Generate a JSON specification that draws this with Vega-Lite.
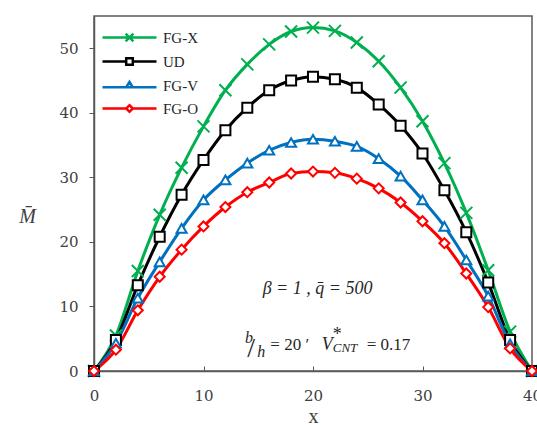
{
  "$schema": "https://vega.github.io/schema/vega-lite/v6.json",
  "width": 438,
  "height": 355,
  "autosize": {"type": "none"},
  "padding": {"left": 94, "top": 16, "right": 5, "bottom": 54},
  "background": "white",
  "config": {
    "view": {"stroke": "#595959", "strokeWidth": 1.5},
    "axis": {"grid": false, "domainColor": "#595959", "domainWidth": 1.5, "tickColor": "#595959", "labelFont": "DejaVu Serif", "labelFontSize": 15, "labelColor": "#404040", "titleFont": "Liberation Serif", "titleColor": "#404040", "titleFontWeight": "normal"},
    "legend": {"labelFont": "Liberation Serif", "labelFontSize": 15, "labelColor": "#262626"}
  },
  "layer": [
    {
      "data": {"name": "curves", "values": [
        {"x":0,"s":"FG-X","M":0},{"x":2,"s":"FG-X","M":5.5},{"x":4,"s":"FG-X","M":15.5},{"x":6,"s":"FG-X","M":24.2},{"x":8,"s":"FG-X","M":31.5},{"x":10,"s":"FG-X","M":37.9},{"x":12,"s":"FG-X","M":43.5},{"x":14,"s":"FG-X","M":47.5},{"x":16,"s":"FG-X","M":50.6},{"x":18,"s":"FG-X","M":52.6},{"x":20,"s":"FG-X","M":53.2},{"x":22,"s":"FG-X","M":52.7},{"x":24,"s":"FG-X","M":50.9},{"x":26,"s":"FG-X","M":48.0},{"x":28,"s":"FG-X","M":43.9},{"x":30,"s":"FG-X","M":38.7},{"x":32,"s":"FG-X","M":32.2},{"x":34,"s":"FG-X","M":24.5},{"x":36,"s":"FG-X","M":15.6},{"x":38,"s":"FG-X","M":6.1},{"x":40,"s":"FG-X","M":0},
        {"x":0,"s":"UD","M":0},{"x":2,"s":"UD","M":4.8},{"x":4,"s":"UD","M":13.3},{"x":6,"s":"UD","M":20.8},{"x":8,"s":"UD","M":27.3},{"x":10,"s":"UD","M":32.7},{"x":12,"s":"UD","M":37.3},{"x":14,"s":"UD","M":40.8},{"x":16,"s":"UD","M":43.5},{"x":18,"s":"UD","M":45.0},{"x":20,"s":"UD","M":45.6},{"x":22,"s":"UD","M":45.2},{"x":24,"s":"UD","M":43.9},{"x":26,"s":"UD","M":41.3},{"x":28,"s":"UD","M":38.0},{"x":30,"s":"UD","M":33.7},{"x":32,"s":"UD","M":28.0},{"x":34,"s":"UD","M":21.5},{"x":36,"s":"UD","M":13.7},{"x":38,"s":"UD","M":4.8},{"x":40,"s":"UD","M":0},
        {"x":0,"s":"FG-V","M":0},{"x":2,"s":"FG-V","M":4.3},{"x":4,"s":"FG-V","M":11.3},{"x":6,"s":"FG-V","M":16.9},{"x":8,"s":"FG-V","M":22.1},{"x":10,"s":"FG-V","M":26.5},{"x":12,"s":"FG-V","M":29.6},{"x":14,"s":"FG-V","M":32.2},{"x":16,"s":"FG-V","M":34.2},{"x":18,"s":"FG-V","M":35.4},{"x":20,"s":"FG-V","M":35.9},{"x":22,"s":"FG-V","M":35.6},{"x":24,"s":"FG-V","M":34.8},{"x":26,"s":"FG-V","M":32.9},{"x":28,"s":"FG-V","M":30.2},{"x":30,"s":"FG-V","M":26.5},{"x":32,"s":"FG-V","M":22.4},{"x":34,"s":"FG-V","M":17.2},{"x":36,"s":"FG-V","M":11.6},{"x":38,"s":"FG-V","M":4.2},{"x":40,"s":"FG-V","M":0},
        {"x":0,"s":"FG-O","M":0},{"x":2,"s":"FG-O","M":3.3},{"x":4,"s":"FG-O","M":9.4},{"x":6,"s":"FG-O","M":14.6},{"x":8,"s":"FG-O","M":18.8},{"x":10,"s":"FG-O","M":22.4},{"x":12,"s":"FG-O","M":25.4},{"x":14,"s":"FG-O","M":27.7},{"x":16,"s":"FG-O","M":29.2},{"x":18,"s":"FG-O","M":30.6},{"x":20,"s":"FG-O","M":30.9},{"x":22,"s":"FG-O","M":30.7},{"x":24,"s":"FG-O","M":29.8},{"x":26,"s":"FG-O","M":28.3},{"x":28,"s":"FG-O","M":26.1},{"x":30,"s":"FG-O","M":23.2},{"x":32,"s":"FG-O","M":19.8},{"x":34,"s":"FG-O","M":15.1},{"x":36,"s":"FG-O","M":9.9},{"x":38,"s":"FG-O","M":3.5},{"x":40,"s":"FG-O","M":0}
      ]},
      "encoding": {
        "x": {"field": "x", "type": "quantitative", "scale": {"domain": [0, 40], "nice": false},
          "axis": {"values": [0, 10, 20, 30, 40], "tickSize": -5, "labelPadding": 22, "title": "x", "titleFontSize": 20, "titlePadding": 3, "labelFlush": false}},
        "y": {"field": "M", "type": "quantitative", "scale": {"domain": [0, 55], "nice": false},
          "axis": {"values": [0, 10, 20, 30, 40, 50], "tickSize": 5, "labelPadding": 11, "title": "M\u0304", "titleAngle": 0, "titleFontStyle": "italic", "titleFontSize": 20, "titleX": -67, "titleY": 200, "titleAlign": "center", "titleBaseline": "middle"}},
        "color": {"field": "s", "type": "nominal", "sort": ["FG-X", "UD", "FG-V", "FG-O"],
          "scale": {"domain": ["FG-X", "UD", "FG-V", "FG-O"], "range": ["#00B050", "#000000", "#0070C0", "#FF0000"]},
          "legend": {"title": null, "orient": "none", "legendX": 28, "legendY": 14, "padding": 0, "rowPadding": 6, "symbolSize": 36, "symbolStrokeWidth": 2.5, "symbolFillColor": "white", "symbolOpacity": 1, "labelOffset": 26}}
      },
      "layer": [
        {"mark": {"type": "line", "interpolate": "monotone", "strokeWidth": 3}},
        {"mark": {"type": "point", "filled": false, "opacity": 0, "size": 1},
         "encoding": {
          "shape": {"field": "s", "type": "nominal", "sort": ["FG-X", "UD", "FG-V", "FG-O"], "legend": null, "scale": {"domain": ["FG-X", "UD", "FG-V", "FG-O"], "range": ["M-9,0H9M-1.3,-1.3L1.3,1.3M-1.3,1.3L1.3,-1.3", "M-9,0H-1.1M1.1,0H9M-1.1,-1.1H1.1V1.1H-1.1Z", "M-9,0.6H-1M1,0.6H9M0,-1.2L1.1,0.6L-1.1,0.6Z", "M-9,0H-1.1M1.1,0H9M0,-1.1L1.1,0L0,1.1L-1.1,0Z"]}}
         }},
        {"mark": {"type": "point", "filled": false, "fill": "white", "fillOpacity": 1, "opacity": 1, "strokeWidth": 2, "size": 100},
         "encoding": {
          "shape": {"condition": [{"test": "datum.s === 'UD'", "value": "square"}, {"test": "datum.s === 'FG-V'", "value": "triangle-up"}, {"test": "datum.s === 'FG-O'", "value": "diamond"}], "value": "M-1.2,-1.2L1.2,1.2M-1.2,1.2L1.2,-1.2"}
         }}
      ]
    },
    {"data": {"values": [{}]}, "mark": {"type": "text", "text": "\u03b2 = 1  ,  q\u0304 = 500", "font": "Liberation Serif", "fontStyle": "italic", "fontSize": 18, "align": "left", "baseline": "alphabetic"},
     "encoding": {"x": {"datum": 15.4}, "y": {"datum": 12.0}, "color": {"value": "#262626"}}},
    {"data": {"values": [{}]}, "mark": {"type": "text", "text": "b", "font": "Liberation Serif", "fontStyle": "italic", "fontSize": 16, "align": "left", "baseline": "alphabetic"},
     "encoding": {"x": {"datum": 13.8}, "y": {"datum": 4.3}, "color": {"value": "#262626"}}},
    {"data": {"values": [{}]}, "mark": {"type": "text", "text": "/", "font": "Liberation Serif", "fontSize": 28, "align": "left", "baseline": "alphabetic"},
     "encoding": {"x": {"datum": 14.0}, "y": {"datum": 2.1}, "color": {"value": "#262626"}}},
    {"data": {"values": [{}]}, "mark": {"type": "text", "text": "h", "font": "Liberation Serif", "fontStyle": "italic", "fontSize": 16, "align": "left", "baseline": "alphabetic"},
     "encoding": {"x": {"datum": 14.9}, "y": {"datum": 2.1}, "color": {"value": "#262626"}}},
    {"data": {"values": [{}]}, "mark": {"type": "text", "text": "= 20 \u2032", "font": "Liberation Serif", "fontSize": 17, "align": "left", "baseline": "alphabetic"},
     "encoding": {"x": {"datum": 16.1}, "y": {"datum": 3.2}, "color": {"value": "#262626"}}},
    {"data": {"values": [{}]}, "mark": {"type": "text", "text": "V", "font": "Liberation Serif", "fontStyle": "italic", "fontSize": 18, "align": "left", "baseline": "alphabetic"},
     "encoding": {"x": {"datum": 20.8}, "y": {"datum": 3.2}, "color": {"value": "#262626"}}},
    {"data": {"values": [{}]}, "mark": {"type": "text", "text": "*", "font": "Liberation Serif", "fontSize": 18, "align": "left", "baseline": "alphabetic"},
     "encoding": {"x": {"datum": 21.8}, "y": {"datum": 4.8}, "color": {"value": "#262626"}}},
    {"data": {"values": [{}]}, "mark": {"type": "text", "text": "CNT", "font": "Liberation Serif", "fontStyle": "italic", "fontSize": 13, "align": "left", "baseline": "alphabetic"},
     "encoding": {"x": {"datum": 21.8}, "y": {"datum": 2.9}, "color": {"value": "#262626"}}},
    {"data": {"values": [{}]}, "mark": {"type": "text", "text": "= 0.17", "font": "Liberation Serif", "fontSize": 17, "align": "left", "baseline": "alphabetic"},
     "encoding": {"x": {"datum": 24.9}, "y": {"datum": 3.2}, "color": {"value": "#262626"}}}
  ]
}
